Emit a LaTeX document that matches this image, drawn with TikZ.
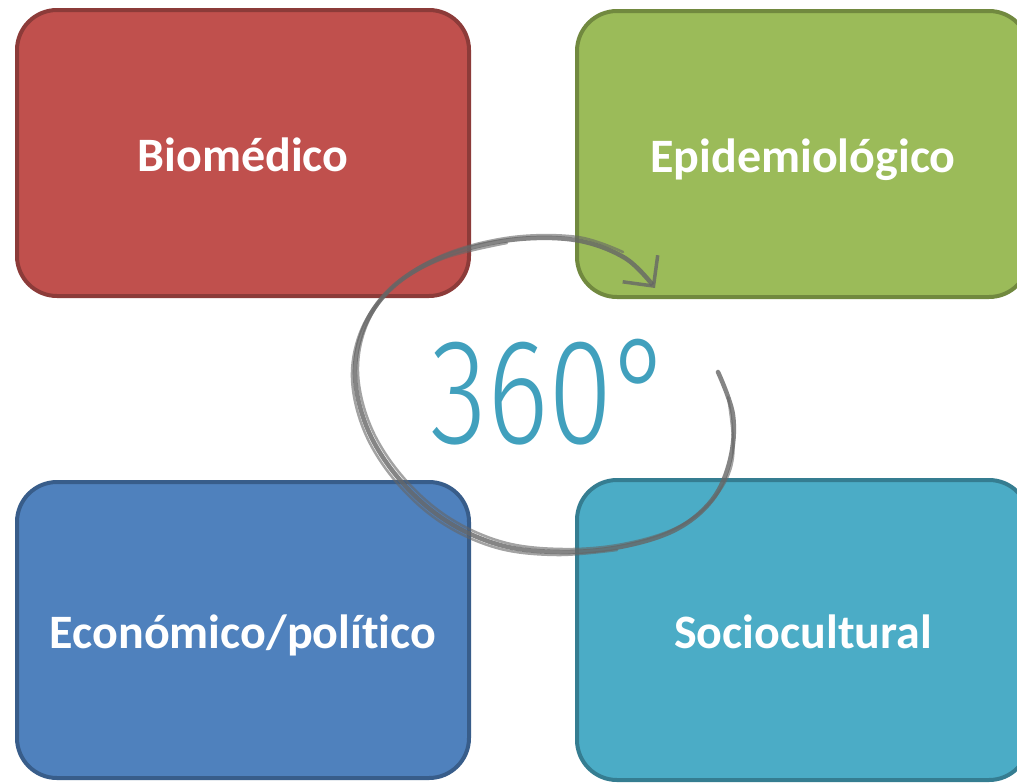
\documentclass[tikz,border=0pt]{standalone}
\usepackage{fontspec}
\setmainfont{Carlito}[Ligatures=NoCommon]
\newfontfamily\handfont{Fira Sans Light}
\usetikzlibrary{arrows.meta}
\definecolor{bioRed}{HTML}{C0504D}
\definecolor{bioRedDark}{HTML}{8C3B39}
\definecolor{epiGreen}{HTML}{9BBB59}
\definecolor{epiGreenDark}{HTML}{71893F}
\definecolor{ecoBlue}{HTML}{4F81BD}
\definecolor{ecoBlueDark}{HTML}{385D8A}
\definecolor{socTeal}{HTML}{4BACC6}
\definecolor{socTealDark}{HTML}{357D91}
\definecolor{sketchGray}{HTML}{666666}
\definecolor{inkTeal}{HTML}{2C96B6}

\begin{document}
\begin{tikzpicture}[x=1pt,y=-1pt]
        \tikzset{box/.style = {shape=rectangle,rounded corners=40pt,line width=4pt,minimum width=452pt,minimum height=286pt,text height=42pt,text depth=6pt,text=white,font=\fontsize{48}{56}\selectfont\bfseries}}
        \tikzset{sketch/.style = {draw=sketchGray,line width=4.5pt,line cap=round,opacity=0.8}}
        \useasboundingbox (0,0) rectangle (1017,782);
        % boxes
        \node[box,fill=bioRed,draw=bioRedDark]     (bio) at (243,153) {Biomédico};
        \node[box,fill=epiGreen,draw=epiGreenDark] (epi) at (803,154) {Epidemiológico};
        \node[box,fill=ecoBlue,draw=ecoBlueDark,minimum height=296pt]   (eco) at (243,630) {Económico/político};
        \node[box,fill=socTeal,draw=socTealDark,minimum height=300pt]   (soc) at (803,630) {Sociocultural};
        % circle
        \draw[sketch,-{Straight Barb[length=22pt,width=44pt,line width=3.5pt]}] plot[smooth,tension=0.6] coordinates {
          (718,372) (733,415) (730,460) (712,500) (675,530) (620,547) (560,552) (500,545) (445,520)
          (400,480) (368,430) (355,375) (365,325) (395,285) (445,256) (510,240) (575,240) (625,258) (655,288)};
        \draw[sketch,line width=2.5pt,opacity=0.6,shift={(3,-3)}] plot[smooth,tension=0.6] coordinates {
          (725,400) (730,460) (712,500) (675,530) (620,547) (560,552) (500,545) (445,520)
          (400,480) (368,430) (355,375) (365,325) (395,285) (445,256) (510,240) (575,240) (620,255)};
        \draw[sketch,line width=2.5pt,opacity=0.6,shift={(-3,3)}] plot[smooth,tension=0.6] coordinates {
          (620,547) (560,552) (500,545) (445,520) (400,480) (368,430) (355,375) (365,325) (395,285) (445,256) (510,240)};
        % 360
        \node[text=inkTeal,font=\handfont\fontsize{150}{150}\selectfont,xscale=0.78,opacity=0.9] (deg) at (552,392) {360°};
\end{tikzpicture}
\end{document}
